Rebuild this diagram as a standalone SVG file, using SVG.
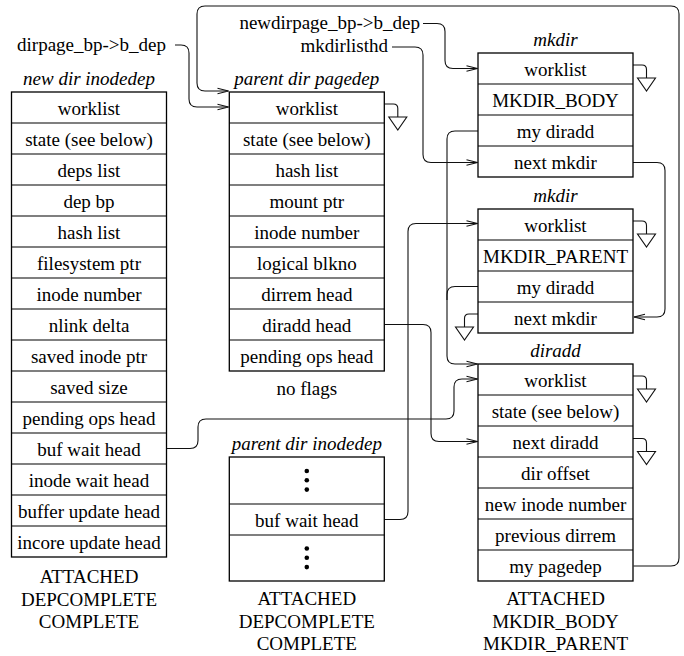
<svg xmlns="http://www.w3.org/2000/svg" width="684" height="656" viewBox="0 0 684 656">
  <rect width="684" height="656" fill="#fff"/>
  <!-- pointer names -->
  <g id="pointer-labels">
    <text x="166" y="51" text-anchor="end" font-family="Liberation Serif" font-size="19">dirpage_bp-&gt;b_dep</text>
    <text x="420" y="28.5" text-anchor="end" font-family="Liberation Serif" font-size="19">newdirpage_bp-&gt;b_dep</text>
    <text x="388" y="52" text-anchor="end" font-family="Liberation Serif" font-size="19">mkdirlisthd</text>
  </g>

  <!-- connectors: lines, open arrowheads, list terminators -->
  <g id="connectors" fill="none" stroke="#111" stroke-width="1.1">
    <path d="M175,45 H181 Q189,45 189,53 V99 Q189,107 197,107 H228.5"/>
    <path d="M217.5,104.3 L228.5,107 L217.5,109.7"/>
    <path d="M633.5,566 H671 Q679,566 679,558 V14 Q679,6 671,6 H205 Q197,6 197,14 V83 Q197,91 205,91 H228.5"/>
    <path d="M217.5,88.3 L228.5,91 L217.5,93.7"/>
    <path d="M423,23.5 H437 Q445,23.5 445,31.5 V60.5 Q445,68.5 453,68.5 H477.5"/>
    <path d="M466.5,65.8 L477.5,68.5 L466.5,71.2"/>
    <path d="M392,47 H415 Q423,47 423,55 V154.5 Q423,162.5 431,162.5 H477.5"/>
    <path d="M466.5,159.8 L477.5,162.5 L466.5,165.2"/>
    <path d="M478,131 H455 Q447,131 447,139 V356 Q447,364 455,364 H477.5"/>
    <path d="M466.5,361.3 L477.5,364 L466.5,366.7"/>
    <path d="M478,286.5 H455 Q447,286.5 447,294.5 V300"/>
    <path d="M633,162.5 H657 Q665,162.5 665,170.5 V309 Q665,317 657,317 H634"/>
    <path d="M645,314.3 L634,317 L645,319.7"/>
    <path d="M384.5,324.5 H423 Q431,324.5 431,332.5 V433.5 Q431,441.5 439,441.5 H477.5"/>
    <path d="M466.5,438.8 L477.5,441.5 L466.5,444.2"/>
    <path d="M384.5,519.5 H400 Q408,519.5 408,511.5 V231.5 Q408,223.5 416,223.5 H477.5"/>
    <path d="M466.5,220.8 L477.5,223.5 L466.5,226.2"/>
    <path d="M167,448.5 H190 Q198,448.5 198,440.5 V427 Q198,419 206,419 H446 Q454,419 454,411 V387 Q454,379 462,379 H477.5"/>
    <path d="M466.5,376.3 L477.5,379 L466.5,381.7"/>

    <path d="M384.3,104 H393.3 Q397.8,104 397.8,108.5 V117 M388.8,117 H406.8 L397.8,130 Z"/>
    <path d="M633,65 H642 Q646.5,65 646.5,69.5 V78 M637.5,78 H655.5 L646.5,91 Z"/>
    <path d="M633,221 H642 Q646.5,221 646.5,225.5 V234 M637.5,234 H655.5 L646.5,247 Z"/>
    <path d="M633,376 H642 Q646.5,376 646.5,380.5 V389 M637.5,389 H655.5 L646.5,402 Z"/>
    <path d="M633,438.5 H642 Q646.5,438.5 646.5,443 V451.5 M637.5,451.5 H655.5 L646.5,464.5 Z"/>
    <path d="M478,314 H469 Q464.5,314 464.5,318.5 V327 M473.5,327 H455.5 L464.5,340 Z"/>
  </g>

  <!-- new dir inodedep -->
  <g id="new-dir-inodedep">
    <text x="89" y="85" text-anchor="middle" font-style="italic" font-family="Liberation Serif" font-size="19">new dir inodedep</text>
    <rect x="11.5" y="92" width="155" height="465" fill="#fff" stroke="#000" stroke-width="1.3"/>
    <path stroke="#000" stroke-width="1.1" d="M11.5,123H166.5M11.5,154H166.5M11.5,185H166.5M11.5,216H166.5M11.5,247H166.5M11.5,278H166.5M11.5,309H166.5M11.5,340H166.5M11.5,371H166.5M11.5,402H166.5M11.5,433H166.5M11.5,464H166.5M11.5,495H166.5M11.5,526H166.5"/>
    <text x="89" y="114.5" text-anchor="middle" font-family="Liberation Serif" font-size="19">worklist</text>
    <text x="89" y="145.5" text-anchor="middle" font-family="Liberation Serif" font-size="19">state (see below)</text>
    <text x="89" y="176.5" text-anchor="middle" font-family="Liberation Serif" font-size="19">deps list</text>
    <text x="89" y="207.5" text-anchor="middle" font-family="Liberation Serif" font-size="19">dep bp</text>
    <text x="89" y="238.5" text-anchor="middle" font-family="Liberation Serif" font-size="19">hash list</text>
    <text x="89" y="269.5" text-anchor="middle" font-family="Liberation Serif" font-size="19">filesystem ptr</text>
    <text x="89" y="300.5" text-anchor="middle" font-family="Liberation Serif" font-size="19">inode number</text>
    <text x="89" y="331.5" text-anchor="middle" font-family="Liberation Serif" font-size="19">nlink delta</text>
    <text x="89" y="362.5" text-anchor="middle" font-family="Liberation Serif" font-size="19">saved inode ptr</text>
    <text x="89" y="393.5" text-anchor="middle" font-family="Liberation Serif" font-size="19">saved size</text>
    <text x="89" y="424.5" text-anchor="middle" font-family="Liberation Serif" font-size="19">pending ops head</text>
    <text x="89" y="455.5" text-anchor="middle" font-family="Liberation Serif" font-size="19">buf wait head</text>
    <text x="89" y="486.5" text-anchor="middle" font-family="Liberation Serif" font-size="19">inode wait head</text>
    <text x="89" y="517.5" text-anchor="middle" font-family="Liberation Serif" font-size="19">buffer update head</text>
    <text x="89" y="548.5" text-anchor="middle" font-family="Liberation Serif" font-size="19">incore update head</text>
    <text x="89" y="583" text-anchor="middle" font-family="Liberation Serif" font-size="19">ATTACHED</text>
    <text x="89" y="605.5" text-anchor="middle" font-family="Liberation Serif" font-size="19">DEPCOMPLETE</text>
    <text x="89" y="628" text-anchor="middle" font-family="Liberation Serif" font-size="19">COMPLETE</text>
  </g>

  <!-- parent dir pagedep -->
  <g id="parent-dir-pagedep">
    <text x="306.8" y="85" text-anchor="middle" font-style="italic" font-family="Liberation Serif" font-size="19">parent dir pagedep</text>
    <rect x="229.3" y="92" width="155" height="279" fill="#fff" stroke="#000" stroke-width="1.3"/>
    <path stroke="#000" stroke-width="1.1" d="M229.3,123H384.3M229.3,154H384.3M229.3,185H384.3M229.3,216H384.3M229.3,247H384.3M229.3,278H384.3M229.3,309H384.3M229.3,340H384.3"/>
    <text x="306.8" y="114.5" text-anchor="middle" font-family="Liberation Serif" font-size="19">worklist</text>
    <text x="306.8" y="145.5" text-anchor="middle" font-family="Liberation Serif" font-size="19">state (see below)</text>
    <text x="306.8" y="176.5" text-anchor="middle" font-family="Liberation Serif" font-size="19">hash list</text>
    <text x="306.8" y="207.5" text-anchor="middle" font-family="Liberation Serif" font-size="19">mount ptr</text>
    <text x="306.8" y="238.5" text-anchor="middle" font-family="Liberation Serif" font-size="19">inode number</text>
    <text x="306.8" y="269.5" text-anchor="middle" font-family="Liberation Serif" font-size="19">logical blkno</text>
    <text x="306.8" y="300.5" text-anchor="middle" font-family="Liberation Serif" font-size="19">dirrem head</text>
    <text x="306.8" y="331.5" text-anchor="middle" font-family="Liberation Serif" font-size="19">diradd head</text>
    <text x="306.8" y="362.5" text-anchor="middle" font-family="Liberation Serif" font-size="19">pending ops head</text>
    <text x="306.8" y="395" text-anchor="middle" font-family="Liberation Serif" font-size="19">no flags</text>
  </g>

  <!-- parent dir inodedep -->
  <g id="parent-dir-inodedep">
    <text x="306.8" y="450" text-anchor="middle" font-style="italic" font-family="Liberation Serif" font-size="19">parent dir inodedep</text>
    <rect x="229.3" y="457" width="155" height="124" fill="#fff" stroke="#000" stroke-width="1.3"/>
    <path stroke="#000" stroke-width="1.1" d="M229.3,504H384.3M229.3,535H384.3"/>
    <circle cx="306.8" cy="471" r="2.3"/>
    <circle cx="306.8" cy="480.3" r="2.3"/>
    <circle cx="306.8" cy="489.6" r="2.3"/>
    <text x="306.8" y="526.5" text-anchor="middle" font-family="Liberation Serif" font-size="19">buf wait head</text>
    <circle cx="306.8" cy="548.5" r="2.3"/>
    <circle cx="306.8" cy="557.8" r="2.3"/>
    <circle cx="306.8" cy="567.1" r="2.3"/>
    <text x="306.8" y="605" text-anchor="middle" font-family="Liberation Serif" font-size="19">ATTACHED</text>
    <text x="306.8" y="627.5" text-anchor="middle" font-family="Liberation Serif" font-size="19">DEPCOMPLETE</text>
    <text x="306.8" y="650" text-anchor="middle" font-family="Liberation Serif" font-size="19">COMPLETE</text>
  </g>

  <!-- mkdir (body) -->
  <g id="mkdir-body">
    <text x="555.5" y="46" text-anchor="middle" font-style="italic" font-family="Liberation Serif" font-size="19">mkdir</text>
    <rect x="478" y="53" width="155" height="124" fill="#fff" stroke="#000" stroke-width="1.3"/>
    <path stroke="#000" stroke-width="1.1" d="M478,84H633M478,115H633M478,146H633"/>
    <text x="555.5" y="75.5" text-anchor="middle" font-family="Liberation Serif" font-size="19">worklist</text>
    <text x="555.5" y="106.5" text-anchor="middle" font-family="Liberation Serif" font-size="19">MKDIR_BODY</text>
    <text x="555.5" y="137.5" text-anchor="middle" font-family="Liberation Serif" font-size="19">my diradd</text>
    <text x="555.5" y="168.5" text-anchor="middle" font-family="Liberation Serif" font-size="19">next mkdir</text>
  </g>

  <!-- mkdir (parent) -->
  <g id="mkdir-parent">
    <text x="555.5" y="202" text-anchor="middle" font-style="italic" font-family="Liberation Serif" font-size="19">mkdir</text>
    <rect x="478" y="209" width="155" height="124" fill="#fff" stroke="#000" stroke-width="1.3"/>
    <path stroke="#000" stroke-width="1.1" d="M478,240H633M478,271H633M478,302H633"/>
    <text x="555.5" y="231.5" text-anchor="middle" font-family="Liberation Serif" font-size="19">worklist</text>
    <text x="555.5" y="262.5" text-anchor="middle" font-family="Liberation Serif" font-size="19">MKDIR_PARENT</text>
    <text x="555.5" y="293.5" text-anchor="middle" font-family="Liberation Serif" font-size="19">my diradd</text>
    <text x="555.5" y="324.5" text-anchor="middle" font-family="Liberation Serif" font-size="19">next mkdir</text>
  </g>

  <!-- diradd -->
  <g id="diradd">
    <text x="555.5" y="357" text-anchor="middle" font-style="italic" font-family="Liberation Serif" font-size="19">diradd</text>
    <rect x="478" y="364" width="155" height="217" fill="#fff" stroke="#000" stroke-width="1.3"/>
    <path stroke="#000" stroke-width="1.1" d="M478,395H633M478,426H633M478,457H633M478,488H633M478,519H633M478,550H633"/>
    <text x="555.5" y="386.5" text-anchor="middle" font-family="Liberation Serif" font-size="19">worklist</text>
    <text x="555.5" y="417.5" text-anchor="middle" font-family="Liberation Serif" font-size="19">state (see below)</text>
    <text x="555.5" y="448.5" text-anchor="middle" font-family="Liberation Serif" font-size="19">next diradd</text>
    <text x="555.5" y="479.5" text-anchor="middle" font-family="Liberation Serif" font-size="19">dir offset</text>
    <text x="555.5" y="510.5" text-anchor="middle" font-family="Liberation Serif" font-size="19">new inode number</text>
    <text x="555.5" y="541.5" text-anchor="middle" font-family="Liberation Serif" font-size="19">previous dirrem</text>
    <text x="555.5" y="572.5" text-anchor="middle" font-family="Liberation Serif" font-size="19">my pagedep</text>
    <text x="555.5" y="605" text-anchor="middle" font-family="Liberation Serif" font-size="19">ATTACHED</text>
    <text x="555.5" y="627.5" text-anchor="middle" font-family="Liberation Serif" font-size="19">MKDIR_BODY</text>
    <text x="555.5" y="650" text-anchor="middle" font-family="Liberation Serif" font-size="19">MKDIR_PARENT</text>
  </g>
</svg>
